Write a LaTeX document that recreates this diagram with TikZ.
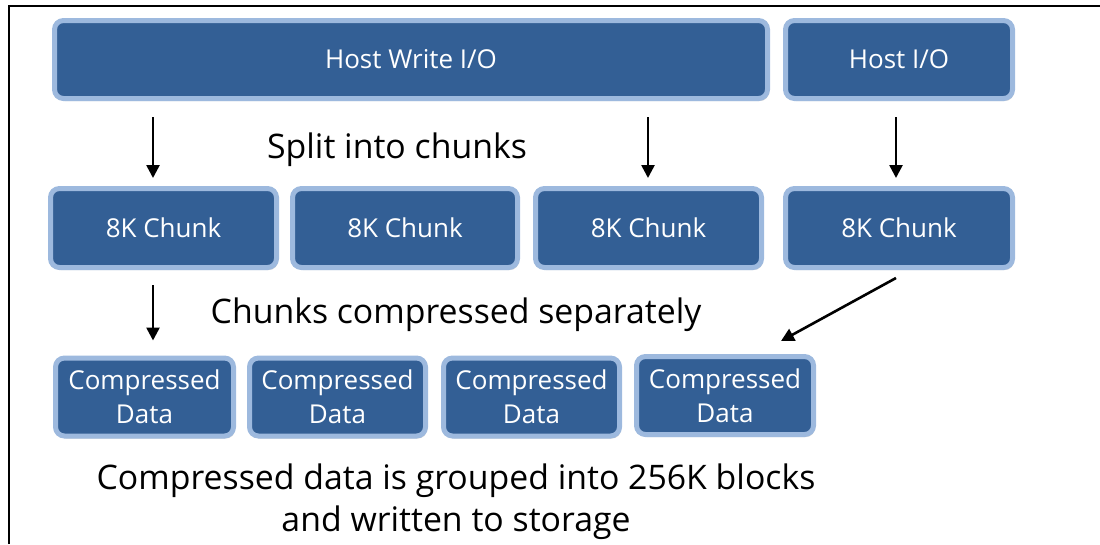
\documentclass[tikz,border=0pt]{standalone}
\usepackage{fontspec}
\setmainfont{Open Sans}
\usetikzlibrary{arrows.meta,shadows,calc}
\definecolor{boxfill}{RGB}{51,95,149}
\definecolor{boxedge}{RGB}{157,185,222}
\tikzset{
  bluebox/.style={draw=boxedge, line width=5pt, fill=boxfill, rounded corners=9pt,
    text=white, font=\fontsize{26}{34}\selectfont, align=center, inner sep=0pt,
    drop shadow={shadow xshift=1.5pt, shadow yshift=-2.5pt, opacity=0.25, fill=black!60}},
  arr/.style={line width=2.6pt, -{Triangle[width=13pt,length=13pt]}},
  caption/.style={font=\fontsize{33.8}{42}\selectfont, align=center, inner sep=0pt}
}
\begin{document}
\begin{tikzpicture}[x=1pt,y=-1pt]
\useasboundingbox (0,0) rectangle (1100,544);
% frame
\draw[line width=1.6pt] (9,544) -- (9,6) -- (1100,6);
% row 1
\node[bluebox, minimum width=713pt, minimum height=78pt] (hw) at (411,59.5) {Host Write I/O};
\node[bluebox, minimum width=227pt, minimum height=78pt] (hio) at (899,59.5) {Host I/O};
% row 2
\node[bluebox, minimum width=226pt, minimum height=79pt] (c1) at (163.5,228) {8K Chunk};
\node[bluebox, minimum width=225pt, minimum height=79pt] (c2) at (405,228) {8K Chunk};
\node[bluebox, minimum width=226pt, minimum height=79pt] (c3) at (648.5,228) {8K Chunk};
\node[bluebox, minimum width=227pt, minimum height=79pt] (c4) at (899,228) {8K Chunk};
% row 3
\node[bluebox, minimum width=178pt, minimum height=78pt] (d1) at (144.5,397) {Compressed\\Data};
\node[bluebox, minimum width=176pt, minimum height=78pt] (d2) at (337.5,397) {Compressed\\Data};
\node[bluebox, minimum width=176pt, minimum height=78pt] (d3) at (531.5,397) {Compressed\\Data};
\node[bluebox, minimum width=177pt, minimum height=78pt] (d4) at (725,395.5) {Compressed\\Data};
% captions
\node[caption] (t1) at (397,150) {Split into chunks};
\node[caption] (t2) at (456,315) {Chunks compressed separately};
\node[caption] (t3) at (456,502) {Compressed data is grouped into 256K blocks\\and written to storage};
% arrow anchor coordinates
\coordinate (a1s) at ($(hw.south west)+(101,16)$);
\coordinate (a1e) at ($(c1.north west)+(105,-8)$);
\coordinate (a2s) at ($(hw.south west)+(596,16)$);
\coordinate (a2e) at ($(c3.north west)+(115,-8)$);
\coordinate (a3s) at ($(hio.south)+(-3,16)$);
\coordinate (a3e) at ($(c4.north)+(-3,-8)$);
\coordinate (a4s) at ($(c1.south west)+(105,15)$);
\coordinate (a4e) at ($(d1.north west)+(100,-15)$);
\coordinate (a5s) at ($(c4.south)+(-3,8)$);
\coordinate (a5e) at ($(d4.north)+(56,-13)$);
\draw[arr] (a1s) -- (a1e);
\draw[arr] (a2s) -- (a2e);
\draw[arr] (a3s) -- (a3e);
\draw[arr] (a4s) -- (a4e);
\draw[arr] (a5s) -- (a5e);
\end{tikzpicture}
\end{document}
